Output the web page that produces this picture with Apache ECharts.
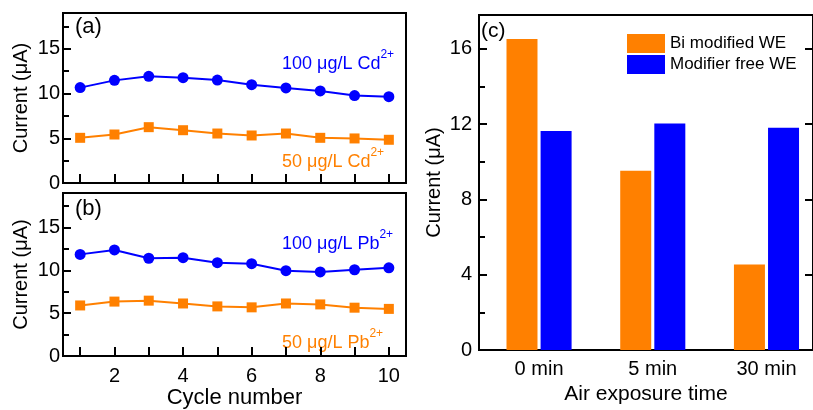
<!DOCTYPE html>
<html>
<head>
<meta charset="utf-8">
<title>Stripping current stability</title>
<script src="https://cdn.jsdelivr.net/npm/echarts@6/dist/echarts.min.js"></script>
<style>
  html, body { margin: 0; padding: 0; background: #fff; }
  #chart { width: 813px; height: 410px; }
</style>
</head>
<body>
<div id="chart"></div>
<script>
// Cycle-to-cycle stripping currents (µA)
const cycles = [1, 2, 3, 4, 5, 6, 7, 8, 9, 10];
const cd100 = [10.66, 11.47, 11.92, 11.77, 11.51, 10.99, 10.62, 10.29, 9.77, 9.65];
const cd50  = [5.05, 5.42, 6.24, 5.90, 5.53, 5.31, 5.53, 5.05, 4.98, 4.83];
const pb100 = [11.85, 12.37, 11.40, 11.47, 10.88, 10.77, 9.95, 9.80, 10.06, 10.29];
const pb50  = [5.90, 6.35, 6.46, 6.13, 5.79, 5.68, 6.13, 6.02, 5.64, 5.50];

// Air exposure test
const exposureLabels = ['0 min', '5 min', '30 min'];
const biModified = [16.52, 9.53, 4.55];
const modifierFree = [11.64, 12.04, 11.81];

// Tick values
const cycleTicks = [1, 2, 3, 4, 5, 6, 7, 8, 9, 10];
const cycleLabels = [2, 4, 6, 8, 10];
const currentTicksAB = [0, 5, 10, 15];
const currentMinorAB = [2.5, 7.5, 12.5, 17.5];
const currentTicksC = [0, 4, 8, 12, 16];
const currentMinorC = [2, 6, 10, 14];

const BLUE = '#0000ff';
const ORANGE = '#ff8000';
const FONT = '"Liberation Sans", Arial, Helvetica, sans-serif';

const pairs = (xs, ys) => xs.map((x, i) => [x, ys[i]]);

const frame = { show: true, borderColor: '#000', borderWidth: 2, backgroundColor: 'transparent' };
const line = { show: true, onZero: false, lineStyle: { color: '#000', width: 2 } };

function cycleAxis(grid, withLabels) {
  return {
    type: 'value', gridIndex: grid, min: 0.5, max: 10.5,
    axisLine: line,
    axisTick: { show: true, inside: true, length: 9, customValues: cycleTicks, lineStyle: { color: '#000', width: 2 } },
    axisLabel: withLabels
      ? { show: true, customValues: cycleLabels, fontSize: 20, color: '#000', margin: 10, fontFamily: FONT }
      : { show: false },
    splitLine: { show: false },
    name: withLabels ? 'Cycle number' : '',
    nameLocation: 'middle', nameGap: 30,
    nameTextStyle: { fontSize: 22, color: '#000', fontFamily: FONT }
  };
}

function currentAxis(grid) {
  return {
    type: 'value', gridIndex: grid, min: 0, max: 19,
    axisLine: line,
    axisTick: { show: true, inside: true, length: 8, customValues: currentTicksAB, lineStyle: { color: '#000', width: 2 } },
    axisLabel: { show: true, customValues: currentTicksAB, fontSize: 20, color: '#000', margin: 3, fontFamily: FONT },
    splitLine: { show: false },
    name: 'Current (\u03bcA)', nameLocation: 'middle', nameGap: 32,
    nameTextStyle: { fontSize: 20, color: '#000', fontFamily: FONT }
  };
}

function minorAxis(grid, values, max) {
  return {
    type: 'value', gridIndex: grid, min: 0, max: max, position: 'left',
    axisLine: { show: false, onZero: false },
    axisTick: { show: true, inside: true, length: 6, customValues: values, lineStyle: { color: '#000', width: 2 } },
    axisLabel: { show: false },
    splitLine: { show: false }
  };
}

function supLabel(main, sup, color) {
  return {
    text: '{m|' + main + '}{s|' + sup + '}',
    rich: {
      m: { fontSize: 18, fill: color, fontFamily: FONT, lineHeight: 24, verticalAlign: 'bottom' },
      s: { fontSize: 12, fill: color, fontFamily: FONT, lineHeight: 10, verticalAlign: 'top' }
    }
  };
}

function textAt(x, y, style) {
  return { type: 'text', left: x, top: y, style: style };
}

const lineSeries = (name, x, y, data, color, symbol, size) => ({
  name: name, type: 'line', xAxisIndex: x, yAxisIndex: y,
  data: data, symbol: symbol, symbolSize: size, showSymbol: true,
  lineStyle: { color: color, width: 2 },
  itemStyle: { color: color },
  z: 3
});

const chart = echarts.init(document.getElementById('chart'), null, { renderer: 'canvas' });

chart.setOption({
  backgroundColor: '#fff',
  animation: false,
  textStyle: { fontFamily: FONT },
  grid: [
    Object.assign({ left: 63, top: 13, width: 343, height: 170 }, frame),
    Object.assign({ left: 63, top: 193, width: 343, height: 170 }, frame),
    Object.assign({ left: 479, top: 15, width: 336, height: 345 }, frame)
  ],
  xAxis: [
    cycleAxis(0, false),
    cycleAxis(1, true),
    {
      type: 'value', gridIndex: 2, min: -0.528, max: 2.409,
      axisLine: line,
      axisTick: { show: false },
      axisLabel: {
        show: true, customValues: [0, 1, 2], fontSize: 20, color: '#000', margin: 9, fontFamily: FONT,
        formatter: v => exposureLabels[Math.round(v)]
      },
      splitLine: { show: false },
      name: 'Air exposure time', nameLocation: 'middle', nameGap: 32,
      nameTextStyle: { fontSize: 21, color: '#000', fontFamily: FONT }
    }
  ],
  yAxis: [
    currentAxis(0),
    currentAxis(1),
    {
      type: 'value', gridIndex: 2, min: 0, max: 17.8,
      axisLine: line,
      axisTick: { show: true, inside: true, length: 8, customValues: currentTicksC, lineStyle: { color: '#000', width: 2 } },
      axisLabel: { show: true, customValues: currentTicksC, fontSize: 20, color: '#000', margin: 7, fontFamily: FONT },
      splitLine: { show: false },
      name: 'Current (\u03bcA)', nameLocation: 'middle', nameGap: 35,
      nameTextStyle: { fontSize: 20, color: '#000', fontFamily: FONT }
    },
    minorAxis(0, currentMinorAB, 19),
    minorAxis(1, currentMinorAB, 19),
    minorAxis(2, currentMinorC, 17.8),
    {
      type: 'value', gridIndex: 2, min: 0, max: 17.8, position: 'right',
      axisLine: line,
      axisTick: { show: true, inside: true, length: 8, customValues: currentTicksC.slice(1), lineStyle: { color: '#000', width: 2 } },
      axisLabel: { show: false },
      splitLine: { show: false }
    }
  ],
  legend: {
    data: ['Bi modified WE', 'Modifier free WE'],
    orient: 'vertical', left: 622, top: 29,
    itemWidth: 38, itemHeight: 19, itemGap: 2, icon: 'rect',
    textStyle: { fontSize: 17, color: '#000', fontFamily: FONT }
  },
  series: [
    lineSeries('100 Cd', 0, 0, pairs(cycles, cd100), BLUE, 'circle', 11),
    lineSeries('50 Cd', 0, 0, pairs(cycles, cd50), ORANGE, 'rect', 10),
    lineSeries('100 Pb', 1, 1, pairs(cycles, pb100), BLUE, 'circle', 11),
    lineSeries('50 Pb', 1, 1, pairs(cycles, pb50), ORANGE, 'rect', 10),
    {
      name: 'Bi modified WE', type: 'bar', xAxisIndex: 2, yAxisIndex: 2,
      data: pairs([0, 1, 2], biModified),
      barWidth: 31, barGap: '10%',
      itemStyle: { color: ORANGE }
    },
    {
      name: 'Modifier free WE', type: 'bar', xAxisIndex: 2, yAxisIndex: 2,
      data: pairs([0, 1, 2], modifierFree),
      barWidth: 31, barGap: '10%',
      itemStyle: { color: BLUE }
    }
  ],
  graphic: [
    textAt(75, 16, { text: '(a)', fontSize: 22, fill: '#000', fontFamily: FONT }),
    textAt(75, 198, { text: '(b)', fontSize: 22, fill: '#000', fontFamily: FONT }),
    textAt(481, 21, { text: '(c)', fontSize: 21, fill: '#000', fontFamily: FONT }),
    textAt(282, 49, supLabel('100 \u03bcg/L Cd', '2+', BLUE)),
    textAt(282, 147, supLabel('50 \u03bcg/L Cd', '2+', ORANGE)),
    textAt(282, 229, supLabel('100 \u03bcg/L Pb', '2+', BLUE)),
    textAt(282, 328, supLabel('50 \u03bcg/L Pb', '2+', ORANGE))
  ]
});
</script>
</body>
</html>
